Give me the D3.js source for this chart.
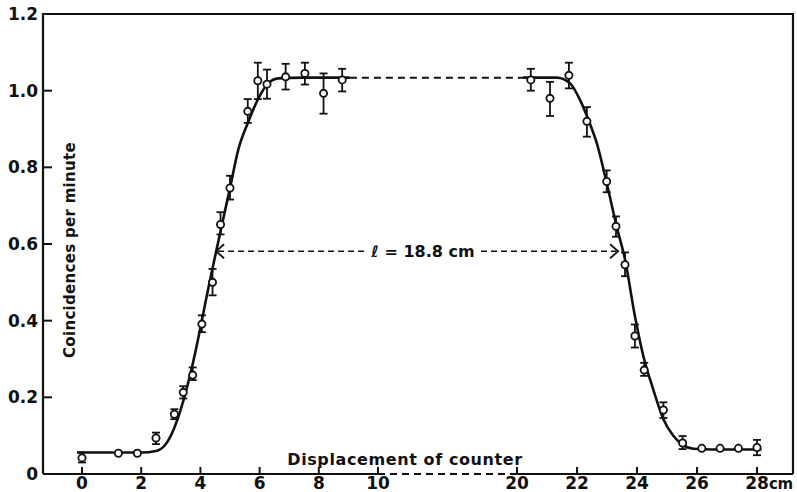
<!DOCTYPE html>
<html>
<head>
<meta charset="utf-8">
<script src="https://cdn.jsdelivr.net/npm/d3@7"></script>
<style>
  body { margin: 0; background: #fff; }
  svg text { font-family: "DejaVu Sans", sans-serif; font-weight: bold; fill: #111; }
</style>
</head>
<body>
<div id="chart"></div>
<script>
// measured points (displacement in cm, coincidences per minute)
const pointX = [0, 1.23, 1.87, 2.5, 3.12, 3.42, 3.74, 4.05, 4.41, 4.68, 5.0, 5.6, 5.94, 6.25, 6.88, 7.53, 8.16, 8.79,
  20.46, 21.1, 21.73, 22.33, 22.99, 23.3, 23.6, 23.93, 24.24, 24.88, 25.52, 26.16, 26.77, 27.38, 28.0];
const pointY = [0.042, 0.054, 0.054, 0.094, 0.156, 0.213, 0.258, 0.391, 0.50, 0.651, 0.746, 0.946, 1.026, 1.017, 1.036, 1.045, 0.993, 1.028,
  1.028, 0.98, 1.04, 0.92, 0.763, 0.646, 0.546, 0.36, 0.271, 0.167, 0.081, 0.067, 0.067, 0.067, 0.069];
// error bar ends, null = no bar drawn
const errLo = [0.030, null, null, 0.078, 0.143, 0.197, 0.245, 0.370, 0.466, 0.625, 0.716, 0.916, 0.978, 0.979, 1.003, 1.016, 0.940, 0.998,
  1.000, 0.934, 1.006, 0.880, 0.735, 0.619, 0.516, 0.330, 0.256, 0.146, 0.065, null, null, null, 0.049];
const errHi = [0.056, null, null, 0.108, 0.169, 0.229, 0.278, 0.414, 0.535, 0.683, 0.778, 0.978, 1.073, 1.055, 1.070, 1.073, 1.045, 1.057,
  1.057, 1.023, 1.073, 0.957, 0.792, 0.672, 0.578, 0.390, 0.290, 0.187, 0.099, null, null, null, 0.089];

// fitted curve
const curveLeft = [[-0.17, 0.056], [1, 0.056], [2, 0.056], [2.5, 0.06], [2.8, 0.075], [3.1, 0.117], [3.42, 0.19], [3.72, 0.28],
  [4.31, 0.5], [4.53, 0.58], [5.0, 0.746], [5.28, 0.846], [5.62, 0.919], [5.96, 0.98], [6.29, 1.019], [6.63, 1.032], [7.5, 1.034], [9.05, 1.034]];
const curveRight = [[20.2, 1.034], [21.32, 1.034], [21.77, 1.019], [22.1, 0.976], [22.38, 0.924], [22.66, 0.863], [22.99, 0.759],
  [23.32, 0.646], [23.6, 0.56], [23.93, 0.412], [24.21, 0.308], [24.54, 0.221], [24.88, 0.143], [25.21, 0.1], [25.49, 0.078],
  [25.88, 0.066], [26.5, 0.064], [28.15, 0.064]];
const plateau = [[9.05, 1.034], [20.2, 1.034]];
const halfMax = [4.53, 23.37, 0.581];

const xTicks = [0, 2, 4, 6, 8, 10, 20, 22, 24, 26, 28];
const yTicks = [0, 0.2, 0.4, 0.6, 0.8, 1.0, 1.2];
const yTickLabels = ["0", "0.2", "0.4", "0.6", "0.8", "1.0", "1.2"];

const width = 797, height = 492;
const svg = d3.select("#chart").append("svg")
  .attr("width", width)
  .attr("height", height);

// broken axis: 10..20 squeezed
const x = d3.scaleLinear().domain([0, 10, 20, 28]).range([82, 378, 517, 757]);
const y = d3.scaleLinear().domain([0, 1.2]).range([474, 14]);
const left = 43, right = 793;

// frame
svg.append("path")
  .attr("d", `M${left},${y(0)}V${y(1.2)}H${right}V${y(0)}`)
  .attr("fill", "none").attr("stroke", "#111").attr("stroke-width", 2.2);
// bottom axis, dashed across the break
svg.append("line").attr("x1", left).attr("x2", x(10)).attr("y1", y(0)).attr("y2", y(0))
  .attr("stroke", "#111").attr("stroke-width", 2.2);
svg.append("line").attr("x1", x(10)).attr("x2", x(20)).attr("y1", y(0)).attr("y2", y(0))
  .attr("stroke", "#111").attr("stroke-width", 2).attr("stroke-dasharray", "7,5");
svg.append("line").attr("x1", x(20)).attr("x2", right).attr("y1", y(0)).attr("y2", y(0))
  .attr("stroke", "#111").attr("stroke-width", 2.2);

// ticks
svg.selectAll(".xtick").data(xTicks).enter().append("line")
  .attr("x1", d => x(d)).attr("x2", d => x(d))
  .attr("y1", y(0)).attr("y2", y(0) - 7)
  .attr("stroke", "#111").attr("stroke-width", 2);
svg.selectAll(".xlab").data(xTicks).enter().append("text")
  .attr("x", d => x(d)).attr("y", 489)
  .attr("text-anchor", "middle")
  .attr("font-size", 17)
  .text(d => d);
svg.append("text").attr("x", x(28) + 12).attr("y", 489)
  .attr("font-size", 15).attr("letter-spacing", -0.5).text("cm");

svg.selectAll(".ytick").data(yTicks.slice(1, 6)).enter().append("line")
  .attr("x1", left).attr("x2", left + 9)
  .attr("y1", d => y(d)).attr("y2", d => y(d))
  .attr("stroke", "#111").attr("stroke-width", 2);
svg.selectAll(".ylab").data(yTicks).enter().append("text")
  .attr("x", 38).attr("y", d => y(d) + 6)
  .attr("text-anchor", "end")
  .attr("font-size", 17)
  .text((d, i) => yTickLabels[i]);

// axis titles
svg.append("text")
  .attr("transform", "translate(75,250) rotate(-90)")
  .attr("text-anchor", "middle")
  .attr("font-size", 15)
  .attr("letter-spacing", 0.3)
  .text("Coincidences per minute");
svg.append("text")
  .attr("x", 405).attr("y", 465)
  .attr("text-anchor", "middle")
  .attr("font-size", 16)
  .attr("letter-spacing", 0.6)
  .text("Displacement of counter");

// fitted curve
const line = d3.line().x(d => x(d[0])).y(d => y(d[1])).curve(d3.curveMonotoneX);
[curveLeft, curveRight].forEach(c => {
  svg.append("path").attr("d", line(c))
    .attr("fill", "none").attr("stroke", "#111").attr("stroke-width", 2.6);
});
svg.append("path").attr("d", d3.line().x(d => x(d[0])).y(d => y(d[1]))(plateau))
  .attr("fill", "none").attr("stroke", "#111").attr("stroke-width", 2).attr("stroke-dasharray", "7,5");

// width at half maximum
const hy = y(halfMax[2]), hx1 = x(halfMax[0]), hx2 = x(halfMax[1]);
svg.append("text")
  .attr("x", 423).attr("y", hy + 6)
  .attr("text-anchor", "middle")
  .attr("font-size", 16)
  .text("ℓ = 18.8 cm");
svg.append("line").attr("x1", hx1 + 2).attr("x2", 366).attr("y1", hy).attr("y2", hy)
  .attr("stroke", "#111").attr("stroke-width", 1.6).attr("stroke-dasharray", "6,4");
svg.append("line").attr("x1", 481).attr("x2", hx2 - 2).attr("y1", hy).attr("y2", hy)
  .attr("stroke", "#111").attr("stroke-width", 1.6).attr("stroke-dasharray", "6,4");
svg.append("path").attr("d", `M${hx1 + 8},${hy - 7}L${hx1},${hy}L${hx1 + 8},${hy + 7}`)
  .attr("fill", "none").attr("stroke", "#111").attr("stroke-width", 1.8);
svg.append("path").attr("d", `M${hx2 - 8},${hy - 7}L${hx2},${hy}L${hx2 - 8},${hy + 7}`)
  .attr("fill", "none").attr("stroke", "#111").attr("stroke-width", 1.8);

// error bars
const bars = pointX.map((d, i) => ({ x: d, lo: errLo[i], hi: errHi[i] })).filter(d => d.lo !== null);
const g = svg.append("g").attr("stroke", "#111").attr("stroke-width", 1.8);
bars.forEach(d => {
  g.append("line").attr("x1", x(d.x)).attr("x2", x(d.x)).attr("y1", y(d.lo)).attr("y2", y(d.hi));
  g.append("line").attr("x1", x(d.x) - 4).attr("x2", x(d.x) + 4).attr("y1", y(d.lo)).attr("y2", y(d.lo));
  g.append("line").attr("x1", x(d.x) - 4).attr("x2", x(d.x) + 4).attr("y1", y(d.hi)).attr("y2", y(d.hi));
});

// points
svg.selectAll(".pt").data(pointX).enter().append("circle")
  .attr("cx", d => x(d))
  .attr("cy", (d, i) => y(pointY[i]))
  .attr("r", 3.6)
  .attr("fill", "#fff")
  .attr("stroke", "#111")
  .attr("stroke-width", 1.8);
</script>
</body>
</html>
